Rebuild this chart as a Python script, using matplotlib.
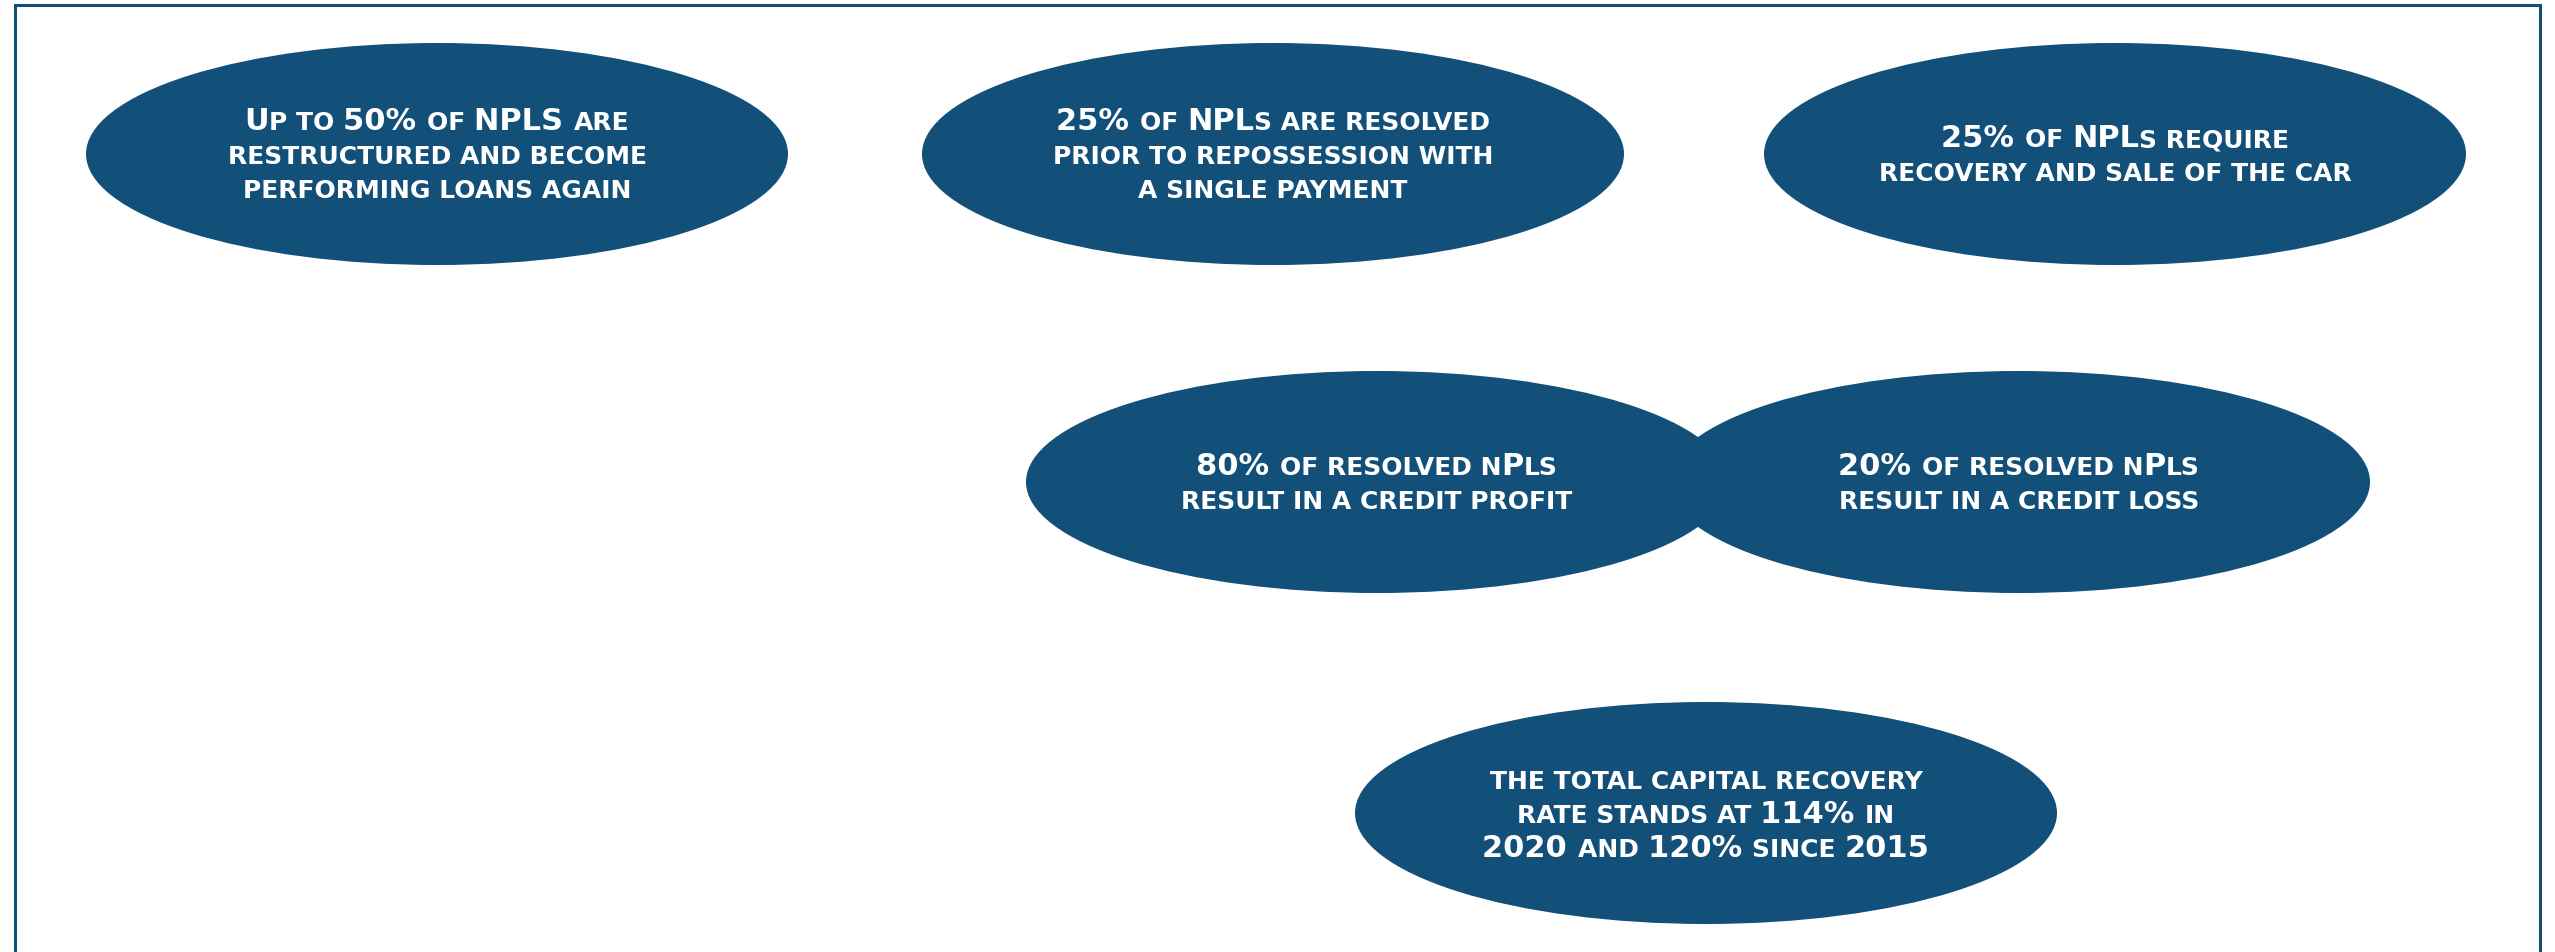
import matplotlib.pyplot as plt
from matplotlib.patches import Ellipse

# Text of each bubble, one entry per line (lower case is drawn as small caps)
bubble_text = [
    ["Up to 50% of NPLS are", "restructured and become", "performing loans again"],
    ["25% of NPLs are resolved", "prior to repossession with", "a single payment"],
    ["25% of NPLs require", "recovery and sale of the car"],
    ["80% of resolved nPls", "result in a credit profit"],
    ["20% of resolved nPls", "result in a credit loss"],
    ["the total capital recovery", "rate stands at 114% in", "2020 and 120% since 2015"],
]

# layout (pixels, y downwards)
bubble_cx = [437, 1273, 2115, 1377, 2019, 1706]
bubble_cy = [155, 155, 155, 483, 483, 814]
ell_w, ell_h = 702, 222
line_gap = 34

navy = '#12507a'
font = ['DejaVu Sans']
small_size = 18
big_size = 22

fig = plt.figure(figsize=(25.55, 9.53), dpi=100)
ax = fig.add_axes([0, 0, 1, 1])
ax.set_xlim(0, 2555)
ax.set_ylim(953, 0)
ax.axis('off')
renderer = fig.canvas.get_renderer()

# outer frame (bottom edge is outside the picture)
ax.plot([15, 15, 2540, 2540], [960, 6, 6, 960], color=navy, lw=2.2,
        solid_joinstyle='miter', clip_on=False)

for cx, cy in zip(bubble_cx, bubble_cy):
    ax.add_patch(Ellipse((cx, cy), ell_w, ell_h, facecolor=navy, edgecolor='none'))


def split_runs(line):
    # group characters into runs of full caps / small caps, spaces stick to the run before
    runs = []
    for ch in line:
        big = ch.isupper() or ch.isdigit() or ch == '%'
        if runs and (ch == ' ' or runs[-1][1] == big):
            runs[-1][0] += ch
        else:
            runs.append([ch, big])
    return runs


def text_width(s, size):
    t = ax.text(0, 0, '|' + s + '|', fontsize=size, family=font, weight='bold')
    w = t.get_window_extent(renderer).width
    t.remove()
    t = ax.text(0, 0, '||', fontsize=size, family=font, weight='bold')
    w -= t.get_window_extent(renderer).width
    t.remove()
    return w


cap_small = 0.73 * small_size * 100 / 72

for lines, cx, cy in zip(bubble_text, bubble_cx, bubble_cy):
    n = len(lines)
    for i, line in enumerate(lines):
        yc = cy + (i - (n - 1) / 2) * line_gap
        base = yc + cap_small / 2
        runs = split_runs(line)
        widths = [text_width(r.upper(), big_size if b else small_size) for r, b in runs]
        x = cx - sum(widths) / 2
        for (r, b), w in zip(runs, widths):
            ax.text(x, base, r.upper(), fontsize=big_size if b else small_size,
                    family=font, weight='bold', color='white', ha='left', va='baseline')
            x += w

fig.savefig('out.png', dpi=100)
